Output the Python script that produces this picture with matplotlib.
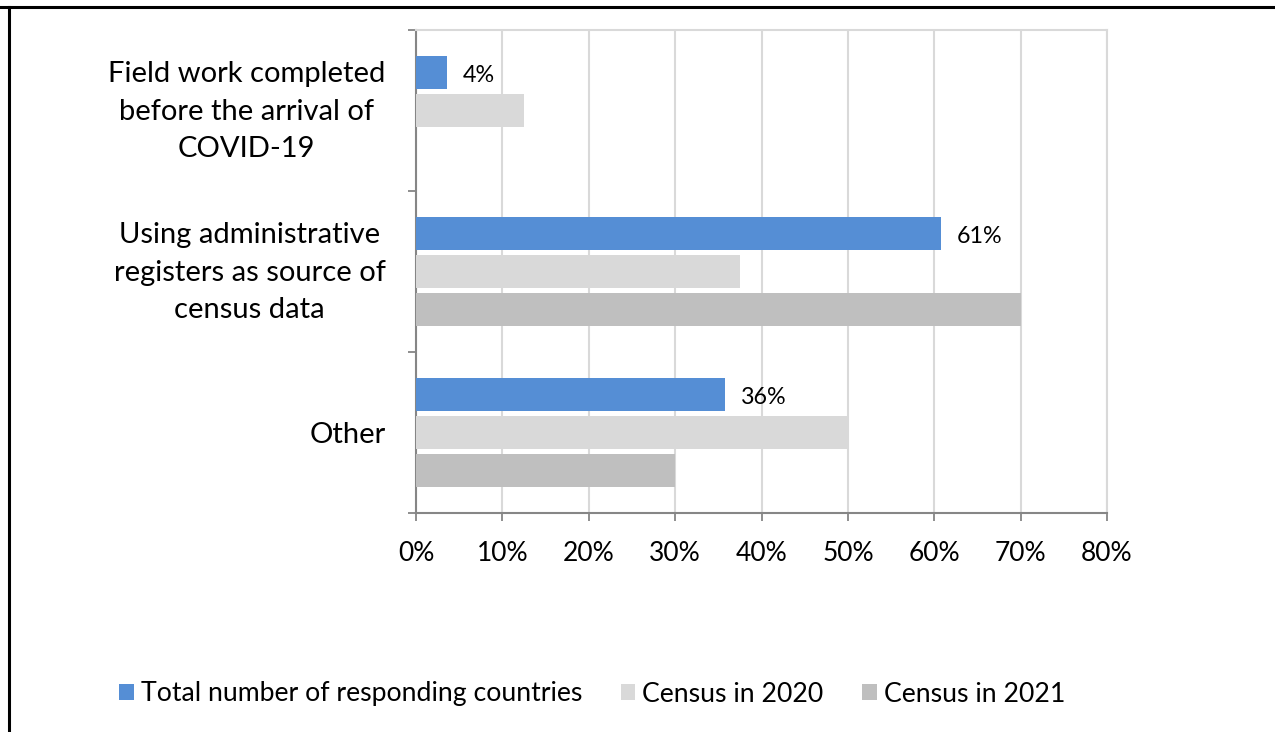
import numpy as np
import matplotlib.pyplot as plt
import matplotlib.transforms as mtransforms
from matplotlib.lines import Line2D

# Datos
categorias = ["Field work completed\nbefore the arrival of\nCOVID-19",
              "Using administrative\nregisters as source of\ncensus data",
              "Other"]
total = [3.6, 60.8, 35.8]          # %
censo_2020 = [12.5, 37.5, 50.0]    # %
censo_2021 = [0.0, 70.0, 30.0]     # %
etiquetas_total = ["4%", "61%", "36%"]
series = ["Total number of responding countries", "Census in 2020", "Census in 2021"]
ticks_x = [0, 10, 20, 30, 40, 50, 60, 70, 80]

plt.rcParams["font.family"] = ["Lato", "DejaVu Sans"]

colores = ["#558ED5", "#D9D9D9", "#BFBFBF"]
eje = "#868686"
rejilla = "#D9D9D9"

fig = plt.figure(figsize=(12.75, 7.32), dpi=100)
ax = fig.add_axes([416 / 1275, 1 - 513 / 732, (1107 - 416) / 1275, (513 - 30) / 732])

y = np.arange(len(categorias))
alto = 0.211
paso = 0.236
for i, (vals, col) in enumerate(zip([total, censo_2020, censo_2021], colores)):
    ax.barh(y + (i - 1) * paso, vals, height=alto, color=col, label=series[i], zorder=3)

# Etiquetas de la primera serie
for yi, v, txt in zip(y, total, etiquetas_total):
    ax.annotate(txt, (v, yi - paso), xytext=(11, -2), textcoords="offset points",
                va="center", ha="left", fontsize=16.8, color="black")

ax.set_xlim(0, 80)
ax.set_ylim(2.5, -0.5)
ax.set_xticks(ticks_x)
ax.set_xticklabels([f"{t}%" for t in ticks_x], fontsize=19)
ax.set_yticks(y)
ax.set_yticklabels(categorias, fontsize=21, multialignment="center", linespacing=1.55)
ax.set_yticks([-0.5, 0.5, 1.5, 2.5], minor=True)
ax.tick_params(axis="y", which="major", length=0, pad=22)
ax.tick_params(axis="y", which="minor", length=6, width=1.3, color=eje, direction="out")
ax.tick_params(axis="x", which="major", length=6, width=1.3, color=eje, direction="out", pad=14)

# subir un poco las etiquetas de varias líneas
for lab in ax.get_yticklabels():
    if "\n" in lab.get_text():
        lab.set_transform(lab.get_transform() +
                          mtransforms.ScaledTranslation(0, 5 / 72, fig.dpi_scale_trans))

ax.grid(axis="x", color=rejilla, linewidth=1.5, zorder=0)
ax.set_axisbelow(True)
for lado in ["left", "bottom"]:
    ax.spines[lado].set_color(eje)
    ax.spines[lado].set_linewidth(1.5)
for lado in ["top", "right"]:
    ax.spines[lado].set_color(rejilla)
    ax.spines[lado].set_linewidth(1.5)

# Leyenda
fig.legend(loc="center", bbox_to_anchor=(592 / 1275, 1 - 694 / 732), ncol=3, frameon=False,
           fontsize=19.2, handlelength=0.55, handleheight=0.55, handletextpad=0.26,
           columnspacing=1.45)

# Marco del documento
fig.add_artist(Line2D([0, 1], [1 - 6.5 / 732] * 2, color="black", linewidth=2.2))
fig.add_artist(Line2D([9 / 1275] * 2, [0, 1 - 6.5 / 732], color="black", linewidth=2.2))

fig.savefig("out.png", dpi=100)
